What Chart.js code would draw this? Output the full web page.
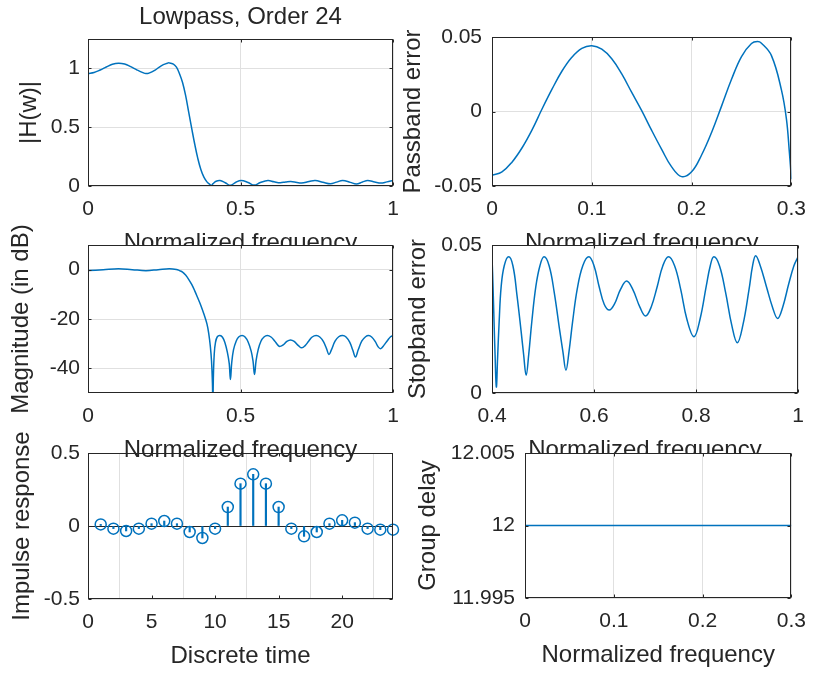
<!DOCTYPE html>
<html>
<head>
<meta charset="utf-8">
<title>Lowpass, Order 24</title>
<script src="https://cdn.jsdelivr.net/npm/chart.js@4.4.1/dist/chart.umd.min.js"></script>
<style>
  html, body { margin: 0; padding: 0; background: #fff; }
  #fig { position: relative; width: 817px; height: 675px; overflow: hidden; background: #fff; }
  #fig canvas { position: absolute; }
</style>
</head>
<body>
<div id="fig">
  <canvas id="c1" width="410" height="258" style="left:0;top:0;z-index:1"></canvas>
  <canvas id="c2" width="422" height="258" style="left:395px;top:0;z-index:1"></canvas>
  <canvas id="c5" width="410" height="248" style="left:0;top:423px;z-index:1"></canvas>
  <canvas id="c3" width="410" height="250" style="left:0;top:215px;z-index:2"></canvas>
  <canvas id="c4" width="422" height="250" style="left:395px;top:215px;z-index:2"></canvas>
  <canvas id="c6" width="422" height="247" style="left:395px;top:423px;z-index:3"></canvas>
</div>
<script>
// Magnitude response |H(w)|
const magF = [0, 0.02, 0.04, 0.06, 0.08, 0.1, 0.12, 0.14, 0.16, 0.18,
  0.19, 0.2, 0.22, 0.24, 0.26, 0.266, 0.28, 0.29, 0.3, 0.31,
  0.32, 0.33, 0.34, 0.35, 0.36, 0.37, 0.38, 0.39, 0.4, 0.404,
  0.41, 0.42, 0.433, 0.45, 0.467, 0.485, 0.502, 0.525, 0.545, 0.565,
  0.59, 0.61, 0.63, 0.648, 0.665, 0.685, 0.7, 0.725, 0.745, 0.77,
  0.795, 0.815, 0.835, 0.86, 0.88, 0.9, 0.917, 0.94, 0.96, 0.98, 1];
const magH = [0.957, 0.965, 0.986, 1.012, 1.035, 1.044, 1.037, 1.015, 0.988, 0.964,
  0.956, 0.96, 0.986, 1.022, 1.044, 1.047, 1.037, 1.011, 0.955, 0.88,
  0.77, 0.63, 0.49, 0.355, 0.235, 0.14, 0.075, 0.035, 0.012, 0.003,
  0.02, 0.04, 0.046, 0.028, 0.006, 0.032, 0.046, 0.03, 0.008, 0.03,
  0.046, 0.036, 0.028, 0.034, 0.038, 0.03, 0.026, 0.038, 0.046, 0.032,
  0.019, 0.033, 0.046, 0.031, 0.017, 0.034, 0.046, 0.034, 0.025, 0.035, 0.046];

// Passband error
const pbF = [0, 0.01, 0.02, 0.03, 0.04, 0.05, 0.06, 0.07, 0.08, 0.09,
  0.1, 0.11, 0.12, 0.13, 0.14, 0.15, 0.16, 0.17, 0.18, 0.19,
  0.2, 0.21, 0.22, 0.23, 0.24, 0.25, 0.26, 0.266, 0.27, 0.28,
  0.29, 0.295, 0.298, 0.3];
const pbErr = [-0.0428, -0.0405, -0.034, -0.0245, -0.0125, 0.0015, 0.0148, 0.027, 0.0364, 0.0424,
  0.0442, 0.0418, 0.0354, 0.0252, 0.0128, 0.0006, -0.0127, -0.0254, -0.0372, -0.0437,
  -0.0405, -0.0292, -0.0141, 0.0036, 0.0216, 0.0369, 0.0456, 0.0469, 0.0458, 0.0375,
  0.0145, -0.005, -0.0276, -0.0455];

// Magnitude in dB
const dbF = [0, 0.05, 0.1, 0.145, 0.19, 0.23, 0.266, 0.29, 0.3,
  0.31, 0.32, 0.33, 0.34, 0.35, 0.36, 0.37, 0.38, 0.39,
  0.396, 0.401, 0.405, 0.408, 0.4095, 0.411, 0.414, 0.418, 0.424, 0.4326,
  0.441, 0.449, 0.457, 0.463, 0.467, 0.471, 0.477, 0.486, 0.494, 0.505,
  0.515, 0.525, 0.535, 0.541, 0.546, 0.551, 0.558, 0.567, 0.577, 0.588,
  0.6, 0.612, 0.624, 0.63, 0.64, 0.652, 0.664, 0.676, 0.69, 0.701,
  0.712, 0.724, 0.735, 0.748, 0.76, 0.772, 0.782, 0.79, 0.798, 0.81,
  0.822, 0.835, 0.846, 0.858, 0.868, 0.877, 0.886, 0.898, 0.91, 0.92,
  0.93, 0.942, 0.952, 0.96, 0.97, 0.982, 0.992, 1];
const dbVal = [-0.38, 0, 0.38, 0, -0.39, 0, 0.4, 0.1, -0.4,
  -1.0, -2.2, -3.9, -6.0, -8.6, -11.5, -14.5, -18, -22,
  -26, -31, -37, -46, -56, -44, -34, -29.5, -27.2, -26.7,
  -27.4, -29.6, -33.5, -38, -44.5, -38, -32.5, -28.9, -27.3, -26.7,
  -27.3, -29.3, -33, -37, -42.5, -37, -32.4, -29, -27.3, -26.7,
  -27.3, -28.9, -30.8, -31.1, -30.5, -29.1, -28.5, -29.1, -30.8, -31.7,
  -30.8, -28.9, -27.3, -26.7, -27.3, -29.2, -32, -34.4, -32.5, -29,
  -27.2, -26.7, -27.3, -29.4, -32.6, -35.4, -32.5, -28.9, -27.2, -26.7,
  -27.3, -29.2, -31.4, -32, -30.7, -28.7, -27.2, -26.7];

// Stopband error
const sbF = [0.4, 0.402, 0.404, 0.406, 0.4085, 0.411, 0.414, 0.418, 0.424, 0.4326,
  0.441, 0.449, 0.457, 0.462, 0.467, 0.472, 0.478, 0.486, 0.494, 0.502,
  0.512, 0.522, 0.532, 0.539, 0.545, 0.551, 0.558, 0.567, 0.578, 0.59,
  0.6, 0.61, 0.62, 0.63, 0.64, 0.652, 0.664, 0.676, 0.69, 0.701,
  0.712, 0.724, 0.735, 0.746, 0.758, 0.77, 0.782, 0.796, 0.808, 0.82,
  0.828, 0.835, 0.846, 0.858, 0.87, 0.881, 0.892, 0.904, 0.911, 0.917,
  0.926, 0.938, 0.95, 0.96, 0.97, 0.982, 0.992, 1];
const sbErr = [0.046, 0.036, 0.024, 0.013, 0.002, 0.012, 0.024, 0.036, 0.043, 0.046,
  0.043, 0.033, 0.021, 0.013, 0.006, 0.013, 0.024, 0.036, 0.043, 0.046,
  0.043, 0.034, 0.022, 0.014, 0.0077, 0.014, 0.024, 0.035, 0.043, 0.046,
  0.043, 0.036, 0.03, 0.028, 0.03, 0.035, 0.0378, 0.035, 0.029, 0.026,
  0.029, 0.036, 0.043, 0.046, 0.043, 0.035, 0.025, 0.019, 0.025, 0.036,
  0.043, 0.046, 0.043, 0.034, 0.023, 0.017, 0.023, 0.035, 0.043, 0.0464,
  0.043, 0.036, 0.029, 0.0252, 0.029, 0.037, 0.043, 0.046];

// Impulse response (stem)
const impN = [1, 2, 3, 4, 5, 6, 7, 8, 9, 10, 11, 12, 13, 14, 15, 16, 17, 18, 19, 20, 21, 22, 23, 24];
const impH = [0.011, -0.018, -0.034, -0.018, 0.016, 0.034, 0.016, -0.041, -0.082, -0.018,
  0.13, 0.29, 0.354, 0.29, 0.13, -0.018, -0.071, -0.041, 0.016, 0.039,
  0.023, -0.018, -0.025, -0.025];

// Group delay
const gdF = [0, 0.05, 0.1, 0.15, 0.2, 0.25, 0.3];
const gdVal = [12, 12, 12, 12, 12, 12, 12];

// Tick labels
const p1XTicks = [0, 0.5, 1], p1YTicks = [0, 0.5, 1];
const p2XTicks = [0, 0.1, 0.2, 0.3], p2YTicks = [-0.05, 0, 0.05];
const p3XTicks = [0, 0.5, 1], p3YTicks = [-40, -20, 0];
const p4XTicks = [0.4, 0.6, 0.8, 1], p4YTicks = [0, 0.05];
const p5XTicks = [0, 5, 10, 15, 20], p5YTicks = [-0.5, 0, 0.5];
const p6XTicks = [0, 0.1, 0.2, 0.3], p6YTicks = [11.995, 12, 12.005];

// Styles
const BLUE = '#0072BD';
const INK = '#262626';
const GRID = '#e0e0e0';
const FONT = "'Liberation Sans', Arial, Helvetica, sans-serif";
const TICK_SIZE = 21;
const LABEL_SIZE = 24;

// Utilities
const pts = (xs, ys) => xs.map((x, i) => ({ x: x, y: ys[i] }));

function curve(xs, ys) {
  return { type: 'line', data: pts(xs, ys), borderColor: BLUE, borderWidth: 1.5,
    pointRadius: 0, fill: false, tension: 0.4 };
}

// white axes background + box + inward tick marks (MATLAB style)
const frame = {
  id: 'frame',
  beforeDraw(chart) {
    const a = chart.chartArea, c = chart.ctx;
    c.save();
    c.fillStyle = '#fff';
    c.fillRect(a.left, a.top, a.right - a.left, a.bottom - a.top);
    c.restore();
  },
  afterDraw(chart) {
    const a = chart.chartArea, c = chart.ctx, sx = chart.scales.x, sy = chart.scales.y;
    const L = Math.round(a.left) + 0.5, R = Math.round(a.right) - 0.5;
    const T = Math.round(a.top) + 0.5, B = Math.round(a.bottom) - 0.5;
    c.save();
    c.strokeStyle = INK;
    c.lineWidth = 1;
    c.beginPath();
    sx.ticks.forEach(t => {
      const p = Math.round(sx.getPixelForValue(t.value)) + 0.5;
      c.moveTo(p, B); c.lineTo(p, B - 3);
      c.moveTo(p, T); c.lineTo(p, T + 3);
    });
    sy.ticks.forEach(t => {
      const p = Math.round(sy.getPixelForValue(t.value)) + 0.5;
      c.moveTo(L, p); c.lineTo(L + 3, p);
      c.moveTo(R, p); c.lineTo(R - 3, p);
    });
    c.stroke();
    c.strokeRect(L, T, R - L, B - T);
    c.restore();
  }
};

function panel(id, o) {
  const tickFont = { family: FONT, size: TICK_SIZE };
  const labelFont = { family: FONT, size: LABEL_SIZE };
  return new Chart(document.getElementById(id), {
    type: o.type || 'line',
    data: { datasets: o.datasets },
    options: {
      responsive: false,
      animation: false,
      devicePixelRatio: 1,
      layout: { padding: o.pad },
      plugins: {
        legend: { display: false },
        tooltip: { enabled: false },
        title: o.title ? {
          display: true, text: o.title, color: INK, font: { family: FONT, size: LABEL_SIZE, weight: 'normal' },
          fullSize: false, padding: { top: 3, bottom: 7.2 }
        } : { display: false }
      },
      scales: {
        x: {
          type: 'linear', position: 'bottom', min: o.x.min, max: o.x.max, offset: false,
          afterBuildTicks: s => { s.ticks = o.x.ticks.map(v => ({ value: v })); },
          afterFit: s => { s.height = 72; },
          ticks: { color: INK, font: tickFont, padding: 11, maxRotation: 0, autoSkip: false, callback: v => String(v) },
          grid: { color: GRID, drawTicks: false },
          border: { display: false },
          title: { display: true, text: o.x.title, color: INK, font: labelFont, padding: { top: 0, bottom: 0 } }
        },
        y: {
          type: 'linear', position: 'left', min: o.y.min, max: o.y.max,
          afterBuildTicks: s => { s.ticks = o.y.ticks.map(v => ({ value: v })); },
          afterFit: s => { s.width = o.y.width; },
          ticks: { color: INK, font: tickFont, padding: o.y.tickPad, autoSkip: false, callback: v => String(v) },
          grid: { color: o.y.gridColor || GRID, drawTicks: false },
          border: { display: false },
          title: { display: true, text: o.y.title, color: INK, font: labelFont, padding: { top: o.y.titlePad, bottom: 0 } }
        }
      }
    },
    plugins: [frame]
  });
}

// Top left: |H(w)|
panel('c1', {
  title: 'Lowpass, Order 24',
  pad: { left: 0, top: 0, right: 17, bottom: 0 },
  datasets: [curve(magF, magH)],
  x: { min: 0, max: 1, ticks: p1XTicks, title: 'Normalized frequency' },
  y: { min: 0, max: 1.25, ticks: p1YTicks, title: '|H(w)|', width: 88, tickPad: 8, titlePad: 15 }
});

// Top right: passband error
panel('c2', {
  pad: { left: 0, top: 37, right: 19, bottom: 0 },
  datasets: [curve(pbF, pbErr)],
  x: { min: 0, max: 0.3, ticks: p2XTicks, title: 'Normalized frequency' },
  y: { min: -0.05, max: 0.05, ticks: p2YTicks, title: 'Passband error', width: 97, tickPad: 10, titlePad: 4 }
});

// Middle left: magnitude in dB
panel('c3', {
  pad: { left: 0, top: 30, right: 17, bottom: 0 },
  datasets: [curve(dbF, dbVal)],
  x: { min: 0, max: 1, ticks: p3XTicks, title: 'Normalized frequency' },
  y: { min: -50, max: 10, ticks: p3YTicks, title: 'Magnitude (in dB)', width: 88, tickPad: 8, titlePad: 7 }
});

// Middle right: stopband error
panel('c4', {
  pad: { left: 0, top: 30, right: 19, bottom: 0 },
  datasets: [curve(sbF, sbErr)],
  x: { min: 0.4, max: 1, ticks: p4XTicks, title: 'Normalized frequency' },
  y: { min: 0, max: 0.05, ticks: p4YTicks, title: 'Stopband error', width: 97, tickPad: 10, titlePad: 9 }
});

// Bottom left: impulse response as stems
panel('c5', {
  type: 'bar',
  pad: { left: 0, top: 30, right: 17, bottom: 0 },
  datasets: [
    { type: 'bar', data: pts(impN, impH), backgroundColor: BLUE, borderWidth: 0, barThickness: 1.5 },
    { type: 'line', data: pts(impN, impH), showLine: false, pointRadius: 5.5, pointBorderWidth: 1.5,
      pointBorderColor: BLUE, pointBackgroundColor: 'rgba(0,0,0,0)', clip: false }
  ],
  x: { min: 0, max: 24, ticks: p5XTicks, title: 'Discrete time' },
  y: { min: -0.5, max: 0.5, ticks: p5YTicks, title: 'Impulse response', width: 88, tickPad: 8, titlePad: 8,
       gridColor: ctx => (ctx.tick && ctx.tick.value === 0 ? INK : GRID) }
});

// Bottom right: group delay
panel('c6', {
  pad: { left: 0, top: 30, right: 19, bottom: 0 },
  datasets: [curve(gdF, gdVal)],
  x: { min: 0, max: 0.3, ticks: p6XTicks, title: 'Normalized frequency' },
  y: { min: 11.995, max: 12.005, ticks: p6YTicks, title: 'Group delay', width: 130, tickPad: 10, titlePad: 19 }
});
</script>
</body>
</html>
